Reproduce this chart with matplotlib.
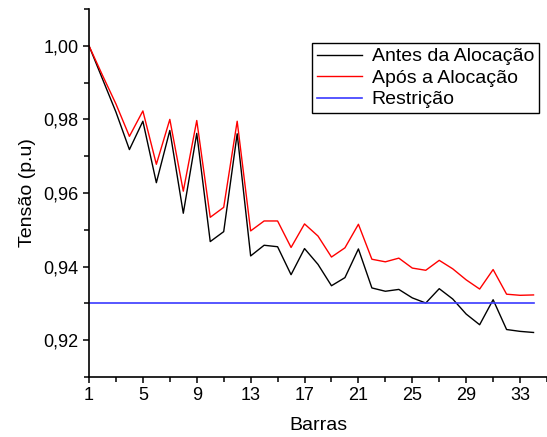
import matplotlib.pyplot as plt
from matplotlib.ticker import FixedLocator, FuncFormatter

plt.rcParams['font.family'] = ['Liberation Sans', 'DejaVu Sans']

barras = list(range(1, 35))
antes = [1.000, 0.991, 0.982, 0.9718, 0.9795, 0.9628, 0.9770, 0.9545, 0.9762, 0.9468,
         0.9495, 0.9761, 0.9429, 0.9458, 0.9454, 0.9378, 0.9449, 0.9406, 0.9348, 0.9370,
         0.9448, 0.9342, 0.9333, 0.9338, 0.9315, 0.9301, 0.9340, 0.9312, 0.9271, 0.9242,
         0.9310, 0.9229, 0.9224, 0.9221]
apos = [1.000, 0.992, 0.9842, 0.9754, 0.9823, 0.9678, 0.9800, 0.9605, 0.9797, 0.9534,
        0.9561, 0.9795, 0.9497, 0.9524, 0.9524, 0.9452, 0.9516, 0.9483, 0.9426, 0.9451,
        0.9515, 0.9420, 0.9413, 0.9423, 0.9396, 0.9390, 0.9417, 0.9394, 0.9364, 0.9339,
        0.9392, 0.9325, 0.9322, 0.9323]
restricao = [0.93] * len(barras)

fig = plt.figure(figsize=(5.47, 4.37), dpi=100)
ax = fig.add_axes([0.1627, 0.1373, 0.8373, 0.8421])

ax.plot(barras, antes, color='black', lw=1.0, label='Antes da Alocação')
ax.plot(barras, apos, color='red', lw=1.0, label='Após a Alocação')
ax.plot(barras, restricao, color='#3a3aff', lw=1.2, label='Restrição')

ax.set_xlim(1, 35)
ax.set_ylim(0.91, 1.01)

ax.xaxis.set_major_locator(FixedLocator(list(range(1, 35, 4))))
ax.xaxis.set_minor_locator(FixedLocator(list(range(1, 36, 2))))
ax.yaxis.set_major_locator(FixedLocator([0.92, 0.94, 0.96, 0.98, 1.00]))
ax.yaxis.set_minor_locator(FixedLocator([0.91, 0.93, 0.95, 0.97, 0.99, 1.01]))
ax.yaxis.set_major_formatter(FuncFormatter(lambda v, p: f"{v:.2f}".replace('.', ',')))

ax.spines['top'].set_visible(False)
ax.spines['right'].set_visible(False)
for s in ('left', 'bottom'):
    ax.spines[s].set_linewidth(1.2)
ax.tick_params(which='both', direction='out', width=1.1, labelsize=13)
ax.tick_params(which='major', length=4)
ax.tick_params(which='minor', length=3.5)

ax.set_xlabel('Barras', fontsize=14, labelpad=9)
ax.set_ylabel('Tensão (p.u)', fontsize=14, labelpad=5)

leg = ax.legend(loc='upper right', bbox_to_anchor=(0.9825, 0.9076), borderaxespad=0,
                fontsize=14, fancybox=False, edgecolor='black', framealpha=1,
                handlelength=2.3, borderpad=0.25, labelspacing=0.2, handletextpad=0.5)
leg.get_frame().set_linewidth(1.0)

fig.savefig('out.png', dpi=100)
